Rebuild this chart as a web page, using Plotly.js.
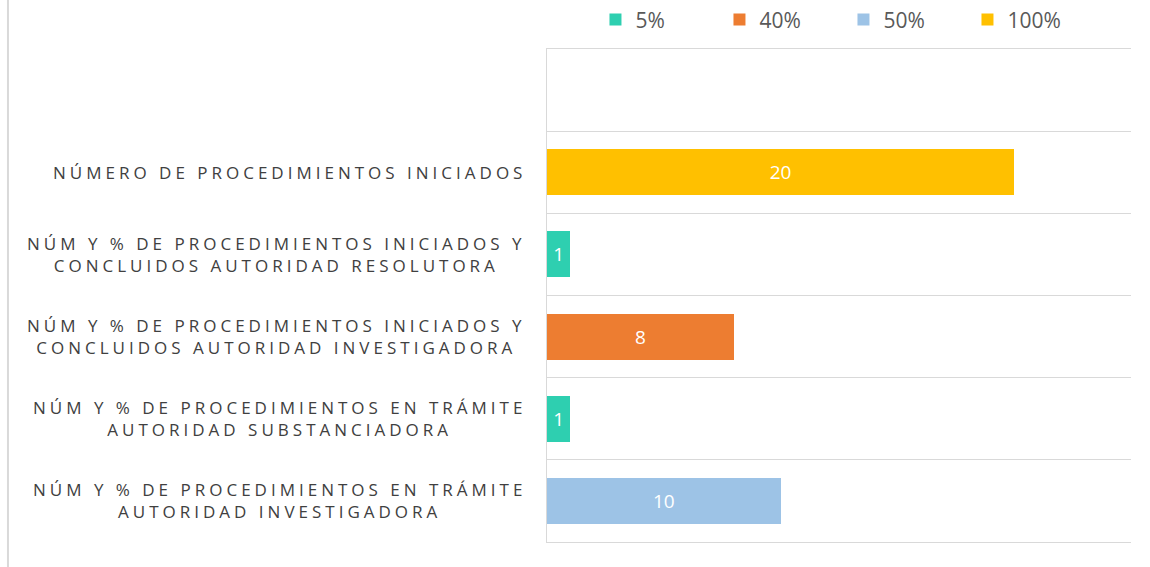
<!DOCTYPE html>
<html>
<head>
<meta charset="utf-8">
<script src="https://cdn.plot.ly/plotly-3.0.1.min.js"></script>
<style>
  html, body { margin: 0; padding: 0; background: #ffffff; }
  #chart { width: 1150px; height: 567px; }
  .annotation-text { letter-spacing: 4px; }
</style>
</head>
<body>
<div id="chart"></div>
<script>
// ---- data ----
const blankCategory = " ";
const categories = [
  "NÚMERO DE PROCEDIMIENTOS INICIADOS",
  "NÚM Y % DE PROCEDIMIENTOS INICIADOS Y<br>CONCLUIDOS AUTORIDAD RESOLUTORA",
  "NÚM Y % DE PROCEDIMIENTOS INICIADOS Y<br>CONCLUIDOS AUTORIDAD INVESTIGADORA",
  "NÚM Y % DE PROCEDIMIENTOS EN TRÁMITE<br>AUTORIDAD SUBSTANCIADORA",
  "NÚM Y % DE PROCEDIMIENTOS EN TRÁMITE<br>AUTORIDAD INVESTIGADORA"
];
const values = [20, 1, 8, 1, 10];
const valueGroup = ["100%", "5%", "40%", "5%", "50%"];
const seriesNames = ["5%", "40%", "50%", "100%"];
const seriesColors = ["#2ecfb0", "#ed7d31", "#9dc3e6", "#ffc000"];

// ---- traces ----
const traces = [{
  type: "bar", orientation: "h",
  y: [blankCategory], x: [0],
  showlegend: false, hoverinfo: "skip",
  marker: { color: "rgba(0,0,0,0)" }
}];
seriesNames.forEach(function (name, si) {
  const ys = [], xs = [];
  categories.forEach(function (c, i) {
    if (valueGroup[i] === name) { ys.push(c); xs.push(values[i]); }
  });
  traces.push({
    type: "bar", orientation: "h", name: name,
    y: ys, x: xs,
    marker: { color: seriesColors[si] },
    text: xs.map(String), textposition: "inside",
    insidetextanchor: "middle", constraintext: "none",
    textfont: { family: "Open Sans", size: 19, color: "#ffffff" },
    hoverinfo: "x+y"
  });
});

const annotations = categories.map(function (c) {
  return {
    xref: "paper", yref: "y", x: 0, y: c,
    xanchor: "right", yanchor: "middle", xshift: -19,
    text: c, showarrow: false, align: "center",
    font: { family: "Open Sans", size: 17, color: "#404040" }
  };
});

const layout = {
  width: 1150, height: 567,
  margin: { l: 547, r: 19, t: 49, b: 25, autoexpand: false },
  paper_bgcolor: "#ffffff", plot_bgcolor: "#ffffff",
  barmode: "stack", bargap: 0.44,
  font: { family: "Open Sans", color: "#595959" },
  xaxis: {
    range: [0, 25], showgrid: false, zeroline: false,
    showticklabels: false, ticks: "",
    showline: true, mirror: true, linecolor: "#d9d9d9", linewidth: 1
  },
  yaxis: {
    type: "category",
    categoryorder: "array",
    categoryarray: [blankCategory].concat(categories),
    range: [5.5, -0.5],
    tickson: "boundaries", showgrid: true,
    gridcolor: "#d9d9d9", gridwidth: 1,
    showline: true, linecolor: "#d9d9d9", linewidth: 1,
    showticklabels: false, ticks: "", zeroline: false
  },
  legend: {
    orientation: "h", x: 0.083, xanchor: "left",
    yref: "container", y: 0.965, yanchor: "middle",
    entrywidth: 79,
    font: { family: "Open Sans", size: 21, color: "#595959" },
    traceorder: "normal"
  },
  annotations: annotations,
  shapes: [{
    type: "line", xref: "paper", yref: "paper",
    x0: -0.923, x1: -0.923, y0: -0.06, y1: 1.11,
    line: { color: "#d9d9d9", width: 2 }
  }]
};

Plotly.newPlot("chart", traces, layout, { displayModeBar: false, staticPlot: true });
</script>
</body>
</html>
